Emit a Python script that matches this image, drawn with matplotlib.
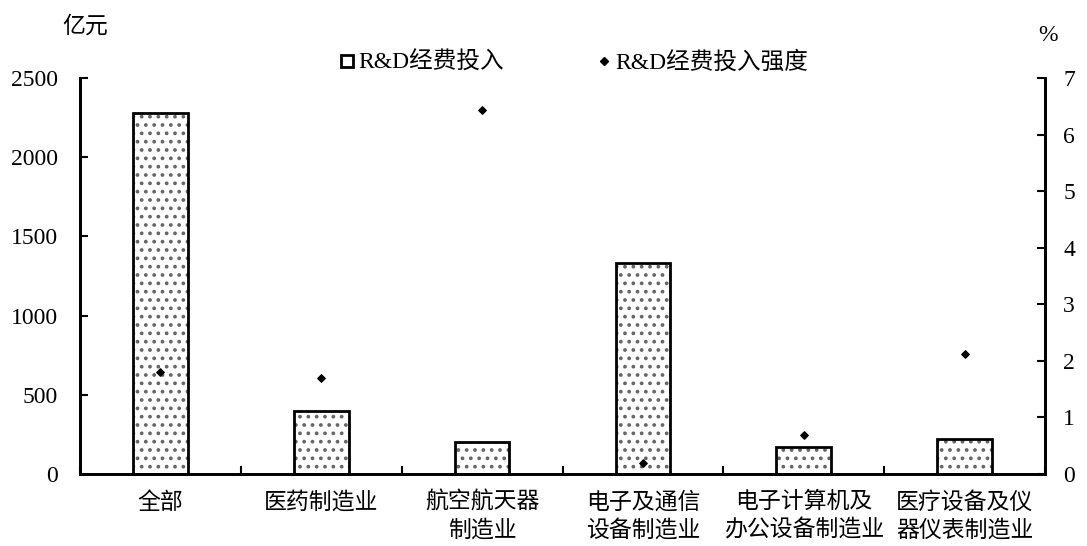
import matplotlib.pyplot as plt
import numpy as np
from matplotlib.lines import Line2D

plt.rcParams['font.family'] = ['Liberation Serif', 'Noto Sans CJK SC']
plt.rcParams['hatch.linewidth'] = 1.5

categories = ["全部", "医药制造业", "航空航天器\n制造业", "电子及通信\n设备制造业",
              "电子计算机及\n办公设备制造业", "医疗设备及仪\n器仪表制造业"]
rd_spend = [2279, 395, 205, 1331, 168, 218]        # 亿元
rd_intensity = [1.80, 1.70, 6.43, 0.20, 0.69, 2.13]  # %

x = np.arange(len(categories))

fig = plt.figure(figsize=(10.87, 5.46), dpi=100)
ax = fig.add_axes([0.0736, 0.1319, 0.8878, 0.7251])
ax2 = ax.twinx()

# Hatched fill first, then outline on top
ax.bar(x, rd_spend, width=0.34, color="white", edgecolor="#666666",
       hatch="..", linewidth=0, zorder=2)
ax.bar(x, rd_spend, width=0.34, color="none", edgecolor="black",
       linewidth=2, zorder=3)

ax2.scatter(x, rd_intensity, marker="D", s=14, color="black", zorder=4)

ax.set_xlim(-0.5, len(categories) - 0.5)
ax.set_ylim(0, 2500)
ax2.set_ylim(0, 7)
ax.set_yticks(range(0, 2501, 500))
ax2.set_yticks(range(0, 8))

ax.set_xticks(x)
ax.set_xticklabels(categories, fontsize=16.5, linespacing=1.35)
ax.set_xticks(np.arange(-0.5, len(categories), 1.0), minor=True)
ax.tick_params(axis="x", which="major", length=0, pad=13)
ax.tick_params(axis="x", which="minor", direction="in", length=6, width=1.5)
ax.tick_params(axis="y", direction="in", length=6, width=1.5, labelsize=17, pad=16)
ax2.tick_params(axis="y", direction="in", length=6, width=1.5, labelsize=17, pad=13)

for a in (ax, ax2):
    a.spines["top"].set_visible(False)
    for s in ("left", "right", "bottom"):
        a.spines[s].set_linewidth(2)

fig.text(0.078, 0.95, "亿元", fontsize=16.5, ha="center", va="center")
fig.text(0.964, 0.935, "%", fontsize=17, ha="center", va="center")

handles = [
    Line2D([], [], marker="s", linestyle="none", markersize=9,
           markerfacecolor="white", markeredgecolor="black", markeredgewidth=2),
    Line2D([], [], marker="D", linestyle="none", markersize=4, color="black"),
]
fig.legend(handles, ["R&D经费投入", "R&D经费投入强度"], loc="center",
           bbox_to_anchor=(0.527, 0.885), ncol=2, frameon=False, fontsize=17,
           handletextpad=0.1, columnspacing=3.8, handlelength=0.8)

fig.savefig("out.png", dpi=100)
